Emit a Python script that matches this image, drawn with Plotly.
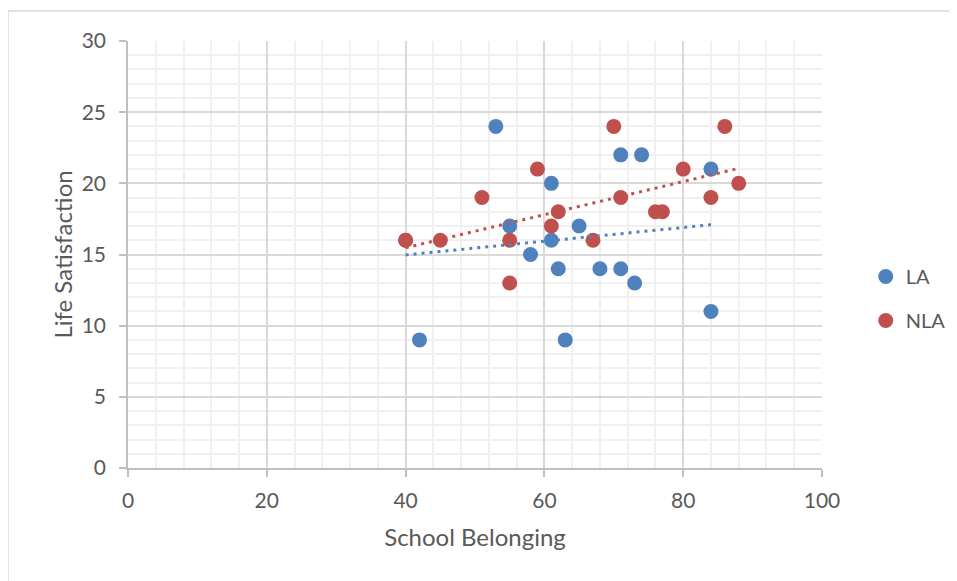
import numpy as np
import plotly.graph_objects as go

la_x = [40, 42, 53, 55, 58, 61, 61, 62, 63, 65, 68, 71, 71, 73, 74, 84, 84]
la_y = [16, 9, 24, 17, 15, 20, 16, 14, 9, 17, 14, 22, 14, 13, 22, 21, 11]
nla_x = [40, 45, 51, 55, 55, 59, 61, 62, 67, 70, 71, 76, 77, 80, 84, 86, 88]
nla_y = [16, 16, 19, 16, 13, 21, 17, 18, 16, 24, 19, 18, 18, 21, 19, 24, 20]

BLUE = "#4F81BD"
RED = "#C0504D"
FONT = "Lato"
TXT = "#595959"

fig = go.Figure()
fig.add_trace(go.Scatter(x=la_x, y=la_y, mode="markers", name="LA", legendgroup="a",
                         marker=dict(color=BLUE, size=15)))
fig.add_trace(go.Scatter(x=nla_x, y=nla_y, mode="markers", name="NLA", legendgroup="b",
                         marker=dict(color=RED, size=15)))

for xs, ys, c in [(la_x, la_y, BLUE), (nla_x, nla_y, RED)]:
    m, b = np.polyfit(xs, ys, 1)
    tx = [min(xs), max(xs)]
    fig.add_trace(go.Scatter(x=tx, y=[m * v + b for v in tx], mode="lines", showlegend=False,
                             line=dict(color=c, width=3, dash="3px,5px"), hoverinfo="skip"))

fig.update_layout(
    width=949, height=573,
    margin=dict(l=120, r=135, t=33, b=113, autoexpand=False),
    paper_bgcolor="white", plot_bgcolor="white",
    font=dict(family=FONT, color=TXT, size=21),
    showlegend=True,
    legend=dict(x=1.063, y=0.397, yanchor="middle", xanchor="left", font=dict(size=20),
                tracegroupgap=15, itemwidth=30),
    xaxis=dict(range=[0, 100], dtick=20, tick0=0, showgrid=True, gridcolor="#d9d9d9", gridwidth=1.5,
               minor=dict(dtick=4, showgrid=True, gridcolor="#f0f0f0", gridwidth=1.5),
               showline=True, linecolor="#bfbfbf", linewidth=1.5,
               ticks="outside", ticklen=7, tickcolor="#bfbfbf", tickwidth=1.5,
               ticklabelstandoff=6,
               zeroline=False, fixedrange=True, automargin=False,
               title=dict(text="School Belonging", font=dict(size=24), standoff=18)),
    yaxis=dict(range=[0, 30], dtick=5, tick0=0, showgrid=True, gridcolor="#d9d9d9", gridwidth=1.5,
               minor=dict(dtick=1, showgrid=True, gridcolor="#f0f0f0", gridwidth=1.5),
               showline=True, linecolor="#bfbfbf", linewidth=1.5,
               ticks="outside", ticklen=7, tickcolor="#bfbfbf", tickwidth=1.5,
               ticklabelstandoff=9,
               zeroline=False, fixedrange=True, automargin=False,
               title=dict(text="Life Satisfaction", font=dict(size=24), standoff=2)),
    shapes=[dict(type="rect", xref="paper", yref="paper", x0=-0.1729, x1=1.25, y0=-0.3, y1=1.0703,
                 line=dict(color="#d9d9d9", width=1.5), layer="below")],
)

fig.write_html("out.html")
